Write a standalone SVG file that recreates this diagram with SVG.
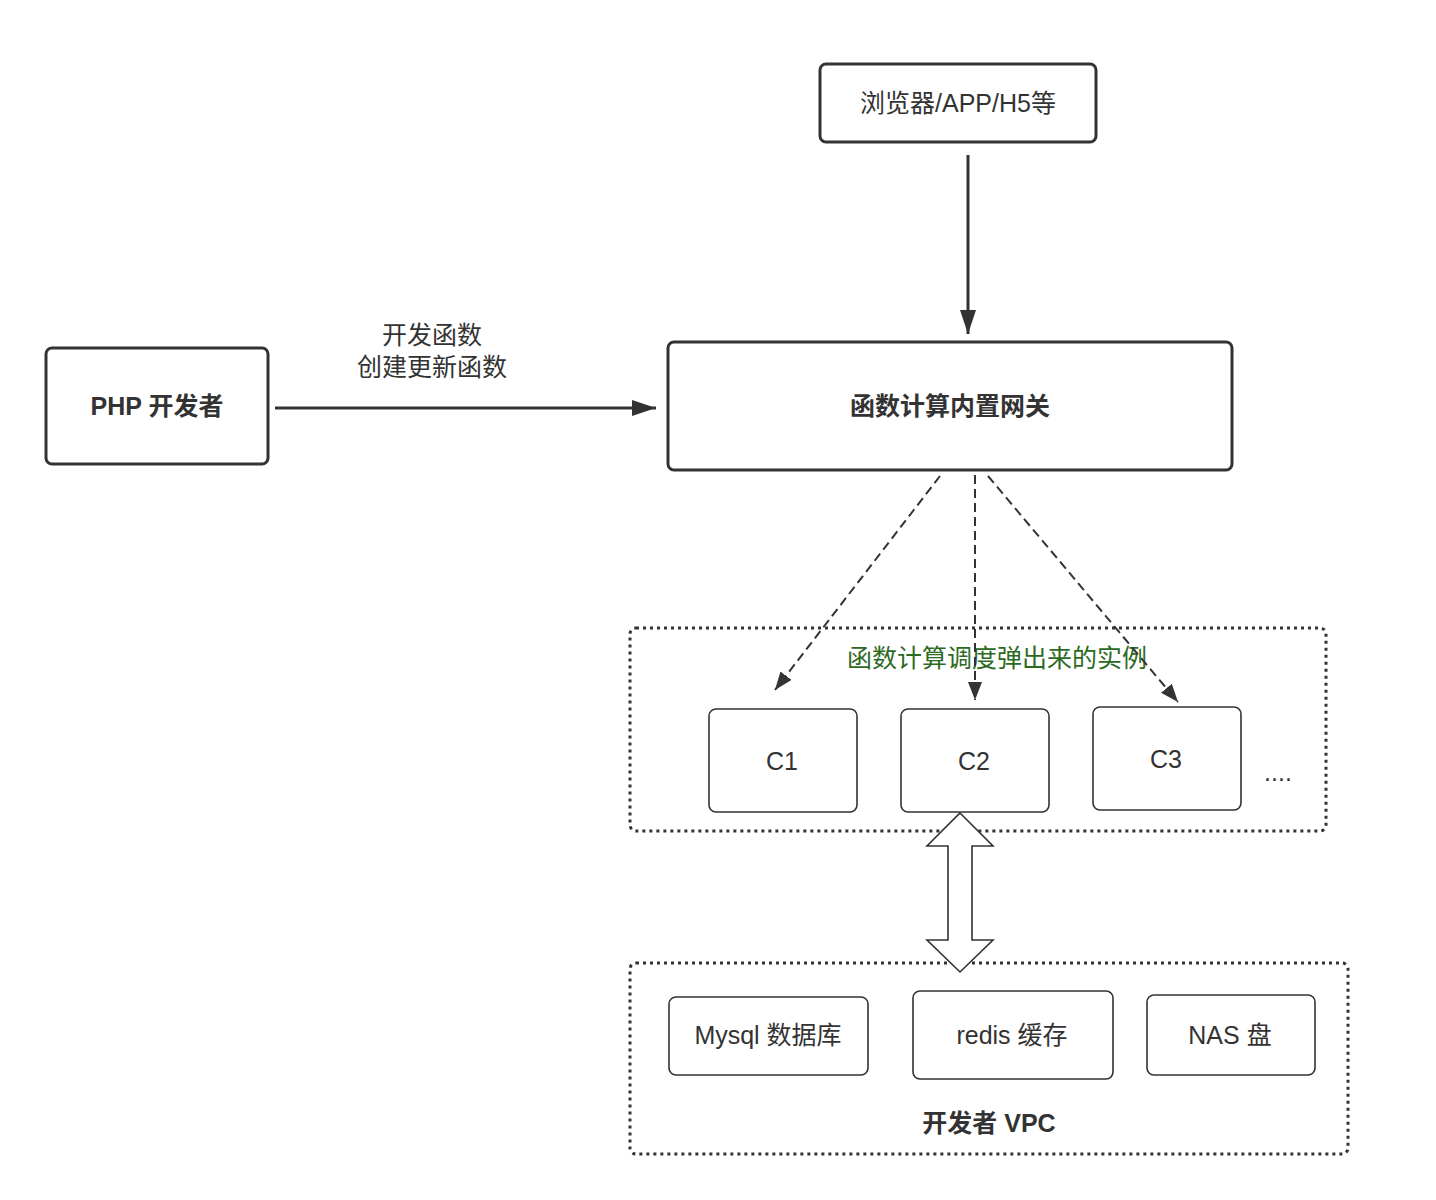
<svg xmlns="http://www.w3.org/2000/svg" width="1436" height="1200" viewBox="0 0 1436 1200">
<defs>
<marker id="big" viewBox="0 0 24 16" refX="24" refY="8" markerWidth="24" markerHeight="16" orient="auto" markerUnits="userSpaceOnUse">
<path d="M0,0 L24,8 L0,16 Z" fill="#333"/>
</marker>
<marker id="small" viewBox="0 0 18 14" refX="18" refY="7" markerWidth="18" markerHeight="14" orient="auto" markerUnits="userSpaceOnUse">
<path d="M0,0 L18,7 L0,14 Z" fill="#333"/>
</marker>
<style>
.t{font-family:"Helvetica Neue","Liberation Sans","Noto Sans CJK SC",sans-serif;fill:#333;font-size:25px;text-anchor:middle;dominant-baseline:central}
.b{font-weight:bold}
.thick{fill:#fff;stroke:#333;stroke-width:3}
.thin{fill:#fff;stroke:#333;stroke-width:1.6}
.dot{fill:none;stroke:#333;stroke-width:3;stroke-dasharray:3 4}
.dash{stroke:#333;stroke-width:2;stroke-dasharray:9 5}
</style>
</defs>
<rect width="1436" height="1200" fill="#fff"/>
<g id="instances-group">
<rect class="dot" x="630" y="628" width="696" height="203" rx="6"/>
<text class="t" x="997" y="658" style="fill:#2D6A1F">函数计算调度弹出来的实例</text>
<text class="t" x="1278" y="772">....</text>
</g>
<g id="vpc-group">
<rect class="dot" x="630" y="963" width="718" height="191" rx="6"/>
<text class="t b" x="989" y="1123">开发者 VPC</text>
</g>
<g id="browser"><rect class="thick" x="820" y="64" width="276" height="78" rx="6"/><text class="t" x="958" y="103">浏览器/APP/H5等</text></g>
<g id="php"><rect class="thick" x="46" y="348" width="222" height="116" rx="6"/><text class="t b" x="157" y="406">PHP 开发者</text></g>
<g id="gateway"><rect class="thick" x="668" y="342" width="564" height="128" rx="6"/><text class="t b" x="950" y="406">函数计算内置网关</text></g>
<g id="c1"><rect class="thin" x="709" y="709" width="148" height="103" rx="7"/><text class="t" x="782" y="761">C1</text></g>
<g id="c2"><rect class="thin" x="901" y="709" width="148" height="103" rx="7"/><text class="t" x="974" y="761">C2</text></g>
<g id="c3"><rect class="thin" x="1093" y="707" width="148" height="103" rx="7"/><text class="t" x="1166" y="759">C3</text></g>
<g id="mysql"><rect class="thin" x="669" y="997" width="199" height="78" rx="7"/><text class="t" x="768" y="1035">Mysql 数据库</text></g>
<g id="redis"><rect class="thin" x="913" y="991" width="200" height="88" rx="7"/><text class="t" x="1012" y="1035">redis 缓存</text></g>
<g id="nas"><rect class="thin" x="1147" y="995" width="168" height="80" rx="7"/><text class="t" x="1230" y="1035">NAS 盘</text></g>
<g id="connectors">
<line x1="968" y1="155" x2="968" y2="334" stroke="#333" stroke-width="3" marker-end="url(#big)"/>
<line x1="275" y1="408" x2="656" y2="408" stroke="#333" stroke-width="3" marker-end="url(#big)"/>
<text class="t" x="432" y="335">开发函数</text>
<text class="t" x="432" y="367">创建更新函数</text>
<line class="dash" x1="940" y1="476" x2="775" y2="690" marker-end="url(#small)"/>
<line class="dash" x1="975" y1="475" x2="975" y2="700" marker-end="url(#small)"/>
<line class="dash" x1="988" y1="476" x2="1178" y2="702" marker-end="url(#small)"/>
<path d="M960,813 L993,846 L972,846 L972,940 L993,940 L960,972 L927,940 L948,940 L948,846 L927,846 Z" fill="#fff" stroke="#333" stroke-width="1.6"/>
</g>
</svg>
